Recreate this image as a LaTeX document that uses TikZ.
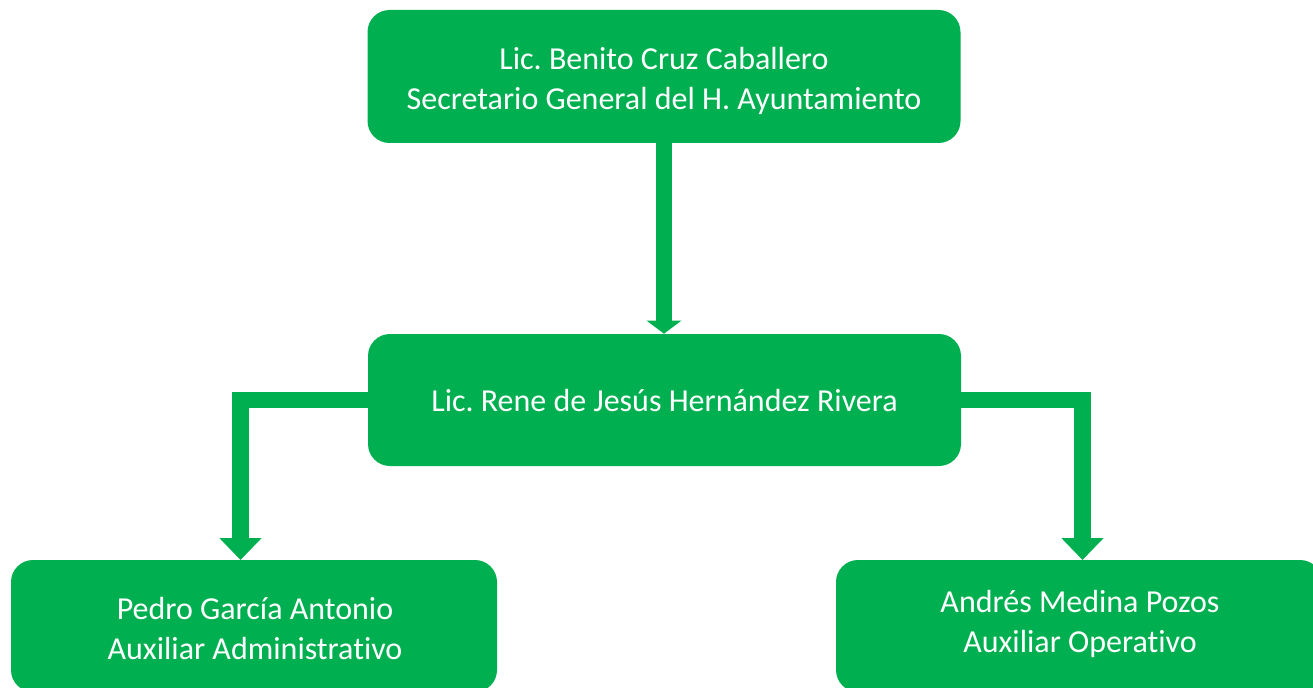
\documentclass[tikz,border=0pt]{standalone}
\usepackage{fontspec}
\setmainfont{Carlito}[Ligatures=NoCommon]
\frenchspacing
\usetikzlibrary{arrows.meta}
\definecolor{ogreen}{HTML}{00B050}
\begin{document}
\begin{tikzpicture}[x=0.75pt,y=-0.75pt,
  box/.style={fill=ogreen, draw=none, rounded corners=16.5pt, inner sep=0pt},
  txt/.style={text=white, align=center, inner sep=0pt, font=\fontsize{24}{30}\selectfont},
  conn/.style={draw=ogreen, line width=12.4pt, line join=miter},
  bigtip/.style={-{Triangle[width=30.75pt,length=16.5pt]}},
  smalltip/.style={-{Triangle[width=25.5pt,length=9.75pt]}}]
\useasboundingbox (0,0) rectangle (1313,688);
\node[box, minimum width=444.75pt, minimum height=99.75pt] (top) at (664,76.5) {};
\node[txt] (toptext) at (664,80.5) {Lic. Benito Cruz Caballero\\Secretario General del H. Ayuntamiento};
\node[box, minimum width=444.75pt, minimum height=99pt] (mid) at (664.5,400) {};
\node[txt] (midtext) at (664.5,401) {Lic. Rene de Jesús Hernández Rivera};
\node[box, minimum width=364.5pt, minimum height=99pt] (bl) at (254,626) {};
\node[txt] (bltext) at (255,629) {Pedro García Antonio\\Auxiliar Administrativo};
\node[box, minimum width=364.5pt, minimum height=99pt] (br) at (1079,626) {};
\node[txt] (brtext) at (1080,623.5) {Andrés Medina Pozos\\Auxiliar Operativo};
\coordinate (lt) at (240.5,560);
\coordinate (rt) at (1082.5,560);
\draw[conn, smalltip] (top.south) -- (top.south |- mid.north);
\draw[conn, bigtip] (mid.west) -| (lt);
\draw[conn, bigtip] (mid.east) -| (rt);
\end{tikzpicture}
\end{document}
